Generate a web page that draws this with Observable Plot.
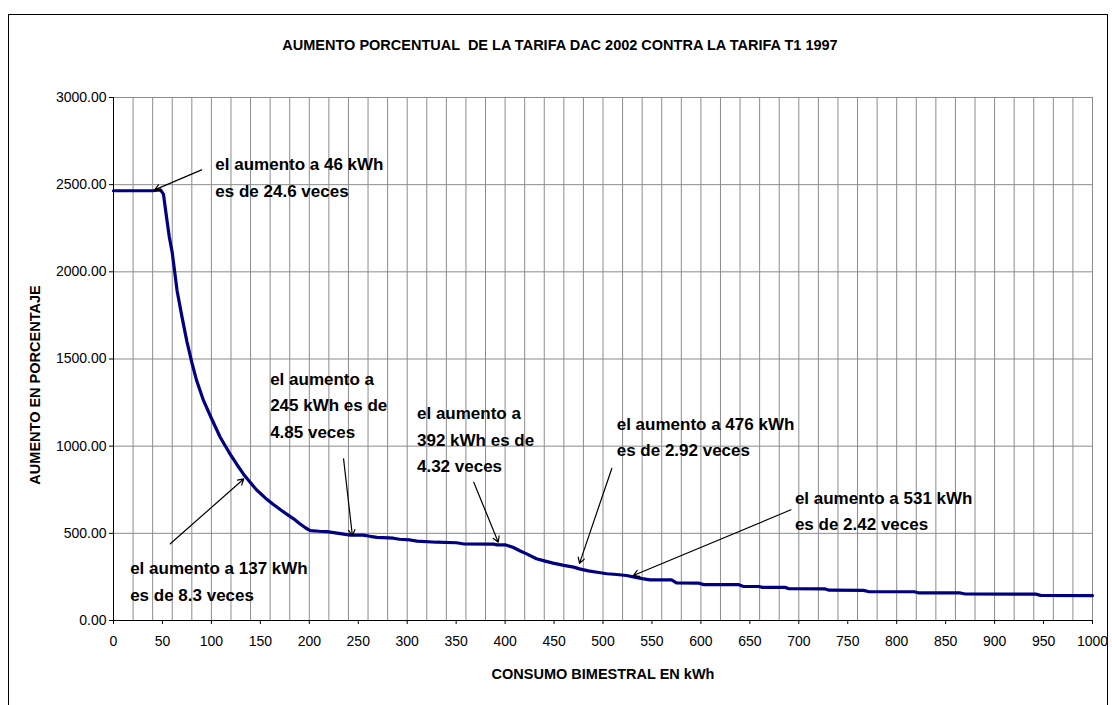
<!DOCTYPE html>
<html><head><meta charset="utf-8">
<script src="https://cdn.jsdelivr.net/npm/d3@7"></script>
<script src="https://cdn.jsdelivr.net/npm/@observablehq/plot@0.6"></script>
<style>
html,body{margin:0;padding:0;background:#fff;}
#chart{position:relative;width:1112px;height:705px;overflow:hidden;}
svg text{white-space:pre;}
</style></head><body><div id="chart"></div>
<script>
// ---- data ----
const chartTitle = "AUMENTO PORCENTUAL  DE LA TARIFA DAC 2002 CONTRA LA TARIFA T1 1997";
const xTitle = "CONSUMO BIMESTRAL EN kWh";
const yTitle = "AUMENTO EN PORCENTAJE";

const kwh = [0, 10, 20, 30, 40, 45, 48, 51, 54, 57, 60, 65, 70, 75, 80, 85, 92, 100, 109, 118, 126, 133, 140, 146, 155, 163, 172, 178, 184, 190, 196, 201, 210, 218, 230, 242, 255, 262, 269, 286, 292, 303, 310, 330, 350, 357, 388, 392, 400, 408, 415, 422, 432, 440, 449, 460, 470, 476, 485, 494, 504, 514, 524, 531, 540, 548, 570, 575, 598, 603, 638, 643, 659, 663, 686, 690, 727, 731, 766, 771, 818, 822, 865, 870, 942, 947, 1000];
const aumento = [2465, 2465, 2465, 2465, 2465, 2468, 2470, 2446, 2320, 2200, 2110, 1890, 1740, 1600, 1480, 1375, 1261, 1160, 1051, 965, 895, 838, 790, 750, 703, 667, 630, 606, 583, 556, 532, 516, 512, 510, 500, 490, 490, 483, 477, 472, 466, 462, 455, 449, 446, 440, 438, 434, 434, 420, 400, 382, 354, 342, 329, 316, 306, 296, 285, 277, 268, 264, 258, 250, 240, 233, 233, 216, 214, 206, 206, 196, 195, 190, 190, 182, 181, 174, 173, 166, 165, 159, 158, 152, 151, 144, 143];

const xTicks = [0, 50, 100, 150, 200, 250, 300, 350, 400, 450, 500, 550, 600, 650, 700, 750, 800, 850, 900, 950, 1000];
const xGrid = [20, 40, 60, 80, 100, 120, 140, 160, 180, 200, 220, 240, 260, 280, 300, 320, 340, 360, 380, 400, 420, 440, 460, 480, 500, 520, 540, 560, 580, 600, 620, 640, 660, 680, 700, 720, 740, 760, 780, 800, 820, 840, 860, 880, 900, 920, 940, 960, 980, 1000];
const yTicks = [0, 500, 1000, 1500, 2000, 2500, 3000];

const annText = [
  "el aumento a 46 kWh\nes de 24.6 veces",
  "el aumento a 137 kWh\nes de 8.3 veces",
  "el aumento a\n245 kWh es de\n4.85 veces",
  "el aumento a\n392 kWh es de\n4.32 veces",
  "el aumento a 476 kWh\nes de 2.92 veces",
  "el aumento a 531 kWh\nes de 2.42 veces"
];
const annX = [104, 17, 160, 310, 514, 696];
const annY = [2554, 239, 1250, 1051, 1066, 643];
const arrX1 = [90, 58, 235, 368, 509, 692];
const arrY1 = [2585, 440, 927, 793, 872, 635];
const arrX2 = [42, 133, 244, 393, 476, 531];
const arrY2 = [2470, 812, 487, 449, 328, 258];

// ---- build tables ----
const series = kwh.map((k, i) => ({kwh: k, aumento: aumento[i]}));
const notes = annText.map((t, i) => ({t, x: annX[i], y: annY[i]}));
const arrows = arrX1.map((x1, i) => ({x1, y1: arrY1[i], x2: arrX2[i], y2: arrY2[i]}));

const chart = Plot.plot({
  width: 1112, height: 705,
  marginLeft: 113, marginRight: 20, marginTop: 97, marginBottom: 85,
  style: {fontFamily: "'Liberation Sans', Arial, sans-serif", fontSize: "14px", color: "black", background: "white", overflow: "visible"},
  x: {domain: [0, 1000], ticks: xTicks, tickSize: 4, tickPadding: 12, tickFormat: d3.format("d"), label: null},
  y: {domain: [0, 3000], ticks: yTicks, tickSize: 4, tickPadding: 3, tickFormat: d3.format(".2f"), label: null},
  marks: [
    Plot.ruleX(xGrid, {stroke: "#8c8c8c", strokeWidth: 1}),
    Plot.ruleY(yTicks, {stroke: "#8c8c8c", strokeWidth: 1}),
    Plot.ruleX([0], {stroke: "black", strokeWidth: 1}),
    Plot.ruleY([0], {stroke: "black", strokeWidth: 1}),
    Plot.line(series, {x: "kwh", y: "aumento", stroke: "#000080", strokeWidth: 3.2, strokeLinejoin: "round"}),
    Plot.arrow(arrows, {x1: "x1", y1: "y1", x2: "x2", y2: "y2", stroke: "black", strokeWidth: 1.2, headLength: 8, inset: 0}),
    Plot.text(notes, {x: "x", y: "y", text: "t", textAnchor: "start", lineAnchor: "middle", lineHeight: 1.56, fontSize: 17, fontWeight: "bold", fill: "black"}),
    Plot.text([chartTitle], {frameAnchor: "top", textAnchor: "middle", dx: -43, dy: -58, fontSize: 14.5, fontWeight: "bold", fill: "black"}),
    Plot.text([xTitle], {frameAnchor: "bottom", textAnchor: "middle", dy: 58, fontSize: 14.5, fontWeight: "bold", fill: "black"}),
    Plot.text([yTitle], {frameAnchor: "left", textAnchor: "middle", rotate: -90, dx: -78, dy: 26, fontSize: 14.5, fontWeight: "bold", fill: "black"})
  ]
});

document.getElementById("chart").appendChild(chart);
d3.select(chart).insert("rect", ":first-child")
  .attr("x", 8.5).attr("y", 14.5).attr("width", 1099).attr("height", 720)
  .attr("fill", "none").attr("stroke", "black").attr("stroke-width", 1);
</script>
</body></html>
